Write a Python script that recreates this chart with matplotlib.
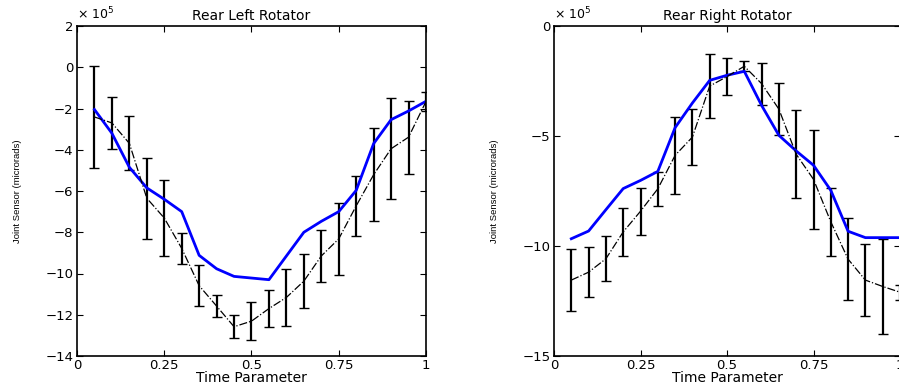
import numpy as np
import matplotlib
matplotlib.use("Agg")
import matplotlib.pyplot as plt

plt.rcParams['font.family'] = ['DejaVu Sans']
plt.rcParams['mathtext.default'] = 'regular'

# time parameter (shared by both panels)
t = [0.05, 0.10, 0.15, 0.20, 0.25, 0.30, 0.35, 0.40, 0.45, 0.50,
     0.55, 0.60, 0.65, 0.70, 0.75, 0.80, 0.85, 0.90, 0.95, 1.00]

# Rear Left Rotator (values in units of 1e5 microrads)
left_model = [-2.05, -3.2, -4.85, -5.85, -6.4, -7.0, -9.12, -9.77, -10.14, -10.22,
              -10.3, -9.15, -8.0, -7.47, -7.0, -5.97, -3.7, -2.54, -2.12, -1.65]
left_mean = [-2.41, -2.7, -3.69, -6.35, -7.31, -8.78, -10.59, -11.58, -12.58, -12.31,
             -11.7, -11.16, -10.37, -9.15, -8.32, -6.72, -5.21, -3.95, -3.39, -1.66]
left_err = [2.47, 1.26, 1.31, 1.97, 1.83, 0.74, 1.0, 0.53, 0.55, 0.93,
            0.89, 1.38, 1.3, 1.28, 1.75, 1.46, 2.26, 2.46, 1.77, 0.46]

# Rear Right Rotator (values in units of 1e5 microrads)
right_model = [-9.67, -9.32, -8.35, -7.39, -7.02, -6.61, -4.62, -3.5, -2.47, -2.24,
               -2.06, -3.61, -4.97, -5.68, -6.33, -7.47, -9.33, -9.62, -9.62, -9.62]
right_mean = [-11.55, -11.19, -10.58, -9.36, -8.42, -7.4, -5.88, -5.05, -2.73, -2.3,
              -1.83, -2.62, -3.78, -5.83, -6.97, -8.9, -10.6, -11.55, -11.84, -12.1]
right_err = [1.42, 1.14, 1.02, 1.1, 1.06, 0.78, 1.74, 1.29, 1.44, 0.83,
             0.22, 0.96, 1.19, 2.0, 2.26, 1.55, 1.87, 1.63, 2.16, 0.35]

fig = plt.figure(figsize=(8.99, 3.85), dpi=100)
ax1 = fig.add_axes([77/899, 29/385, 349/899, 330/385])
ax2 = fig.add_axes([554/899, 29/385, 346/899, 330/385])

panels = [
    (ax1, "Rear Left Rotator", left_model, left_mean, left_err, (-14, 2), [-14, -12, -10, -8, -6, -4, -2, 0, 2]),
    (ax2, "Rear Right Rotator", right_model, right_mean, right_err, (-15, 0), [-15, -10, -5, 0]),
]

for ax, title, model, mean, err, ylim, yticks in panels:
    ax.errorbar(t, mean, yerr=err, fmt='-.', color='k', lw=0.9,
                ecolor='k', elinewidth=1.6, capsize=3.5, capthick=1.0)
    ax.plot(t, model, color='#0000ff', lw=2.0)
    ax.set_xlim(0, 1)
    ax.set_ylim(*ylim)
    ax.set_xticks([0, 0.25, 0.5, 0.75, 1])
    ax.set_xticklabels(['0', '0.25', '0.5', '0.75', '1'])
    ax.set_yticks(yticks)
    ax.tick_params(direction='in', length=4, width=0.8, top=True, right=True,
                   labelsize=9.5, pad=2.5)
    for s in ax.spines.values():
        s.set_linewidth(1.2)
    ax.set_title(title, fontsize=10, pad=4)
    ax.set_xlabel("Time Parameter", fontsize=10, labelpad=-1)
    ax.set_ylabel("Joint Sensor (microrads)", fontsize=6.8,
                  family=['Liberation Sans', 'DejaVu Sans'])
    ax.yaxis.set_label_coords(-0.158, 0.5)
    ax.text(0.0, 1.012, u"\u00d7 10$^{5}$", transform=ax.transAxes,
            fontsize=9, ha='left', va='bottom')

fig.savefig("out.png", dpi=100)
